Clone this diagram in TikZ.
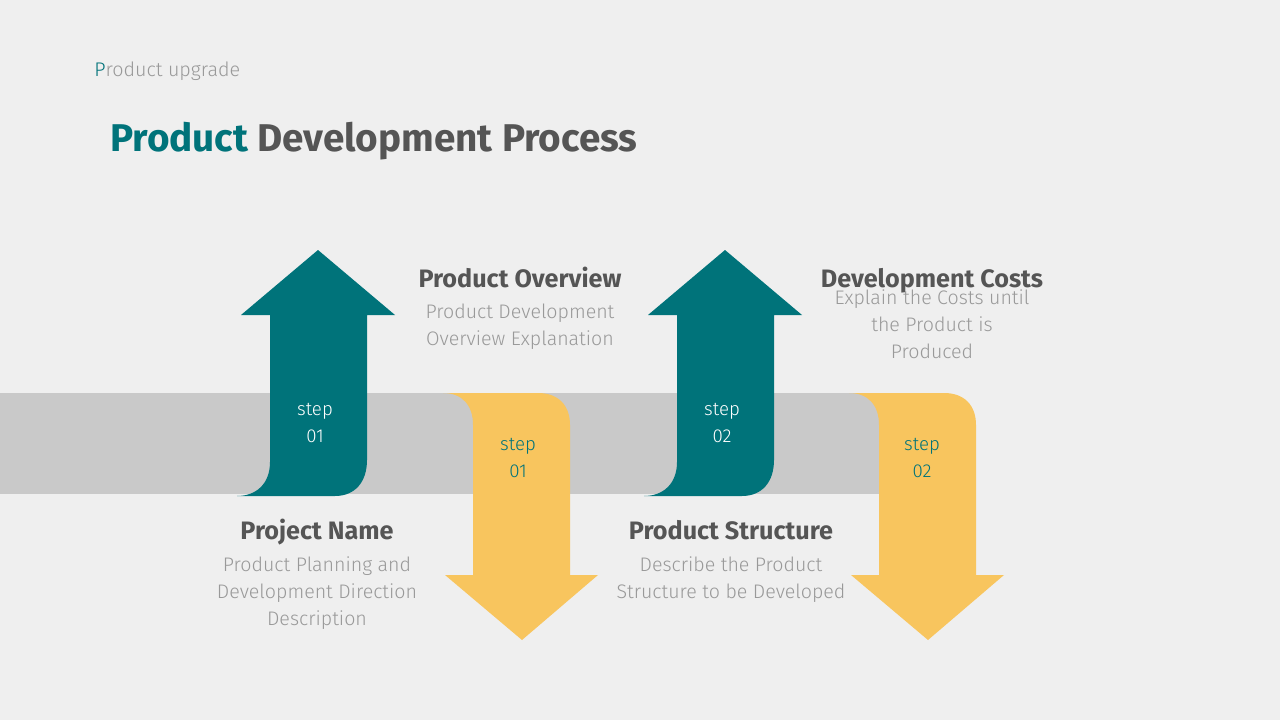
\documentclass[tikz,border=0pt]{standalone}
\usepackage{fontspec}
\setmainfont{Fira Sans}
\newfontfamily\lightfont{Fira Sans Light}
\definecolor{bg}{HTML}{EFEFEF}
\definecolor{teal1}{HTML}{00737A}
\definecolor{yel}{HTML}{F8C55E}
\definecolor{band}{HTML}{C9C9C9}
\definecolor{dark}{HTML}{555555}
\definecolor{lite}{HTML}{999999}
\begin{document}
\begin{tikzpicture}[x=0.75pt,y=-0.75pt,
  head/.style={anchor=base,inner sep=0,text=dark,font=\fontsize{18.9}{22}\selectfont\bfseries},
  desc/.style={anchor=base,inner sep=0,text=lite,font=\lightfont\fontsize{14.7}{20.25}\selectfont},
  steptxt/.style={anchor=base,inner sep=0,font=\lightfont\fontsize{14}{20.25}\selectfont}]
\fill[bg] (0,0) rectangle (1280,720);
\useasboundingbox (0,0) rectangle (1280,720);
% band
\fill[band] (0,393) rectangle (920,494);
% teal arrow 1
\fill[teal1] (237,496) .. controls (256,496) and (270,484) .. (270,462) -- (270,315) -- (241,315) -- (318,250) -- (395,315) -- (367,315) -- (367,460) .. controls (367,482) and (355,496) .. (335,496) -- cycle;
% yellow arrow 1
\fill[yel] (443,393) .. controls (462,393) and (473,405) .. (473,425) -- (473,575) -- (445,575) -- (522,640) -- (598,575) -- (570,575) -- (570,425) .. controls (570,405) and (558,393) .. (538,393) -- cycle;
% teal arrow 2
\fill[teal1] (644,496) .. controls (663,496) and (677,484) .. (677,462) -- (677,315) -- (648,315) -- (725,250) -- (802,315) -- (774,315) -- (774,460) .. controls (774,482) and (762,496) .. (742,496) -- cycle;
% yellow arrow 2
\fill[yel] (849,393) .. controls (868,393) and (879,405) .. (879,425) -- (879,575) -- (851,575) -- (928,640) -- (1004,575) -- (976,575) -- (976,425) .. controls (976,405) and (964,393) .. (944,393) -- cycle;
% step labels
\node[steptxt,text=white] (s1) at (315,415) {\begin{tabular}[t]{@{}c@{}}step\\01\end{tabular}};
\node[steptxt,text=teal1] (s2) at (518,450) {\begin{tabular}[t]{@{}c@{}}step\\01\end{tabular}};
\node[steptxt,text=white] (s3) at (722,415) {\begin{tabular}[t]{@{}c@{}}step\\02\end{tabular}};
\node[steptxt,text=teal1] (s4) at (922,450) {\begin{tabular}[t]{@{}c@{}}step\\02\end{tabular}};
% header
\node[anchor=base west,inner sep=0,text=lite,font=\lightfont\fontsize{14.8}{16}\selectfont] (sub) at (94,77) {\textcolor{teal1}{P}roduct upgrade};
\node[anchor=base west,inner sep=0,font=\fontsize{29}{34}\selectfont\bfseries] (title) at (110,152) {\textcolor{teal1}{Product} \textcolor{dark}{Development Process}};
% texts
\node[head] (h1) at (520,287) {Product Overview};
\node[desc] (d1) at (520,318) {\begin{tabular}[t]{@{}c@{}}Product Development\\Overview Explanation\end{tabular}};
\node[head] (h2) at (932,287) {Development Costs};
\node[desc] (d2) at (932,304) {\begin{tabular}[t]{@{}c@{}}Explain the Costs until\\the Product is\\Produced\end{tabular}};
\node[head] (h3) at (317,539) {Project Name};
\node[desc] (d3) at (317,571) {\begin{tabular}[t]{@{}c@{}}Product Planning and\\Development Direction\\Description\end{tabular}};
\node[head] (h4) at (731,539) {Product Structure};
\node[desc] (d4) at (731,571) {\begin{tabular}[t]{@{}c@{}}Describe the Product\\Structure to be Developed\end{tabular}};
\end{tikzpicture}
\end{document}
